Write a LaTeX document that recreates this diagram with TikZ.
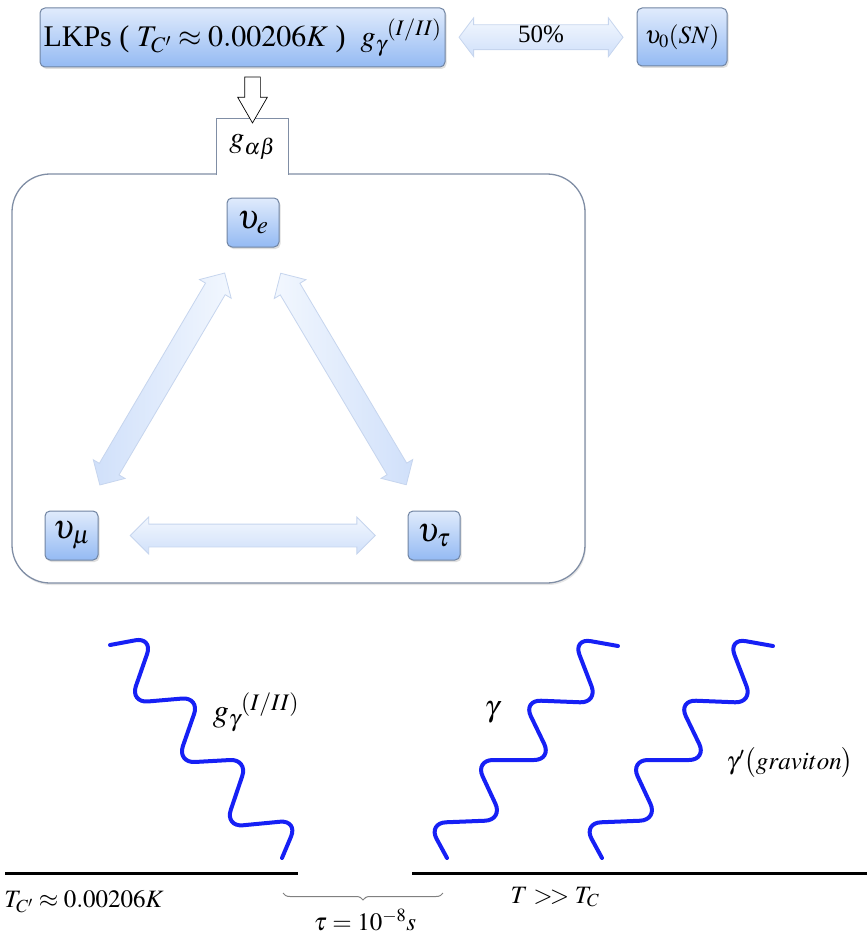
\documentclass[tikz,border=0pt]{standalone}
\usepackage{mathptmx}
\usepackage{fontspec}
\setmainfont{Liberation Serif}
\usetikzlibrary{shapes.arrows,shadows,decorations.pathreplacing,calc}

\definecolor{boxtop}{RGB}{224,235,252}
\definecolor{boxbot}{RGB}{148,186,243}
\definecolor{boxline}{RGB}{112,132,162}
\definecolor{arrtop}{RGB}{242,247,254}
\definecolor{arrbot}{RGB}{208,224,250}
\definecolor{arrline}{RGB}{198,213,238}
\definecolor{frameline}{RGB}{128,142,165}
\definecolor{wave}{RGB}{22,32,245}

\tikzset{
  bluebox/.style={draw=boxline, line width=1pt, rounded corners=5pt,
    top color=boxtop, bottom color=boxbot, inner sep=0pt,
    drop shadow={opacity=0.25, shadow xshift=1.5pt, shadow yshift=-2pt}},
  fatarrow/.style={double arrow, draw=arrline, line width=0.8pt, inner xsep=0pt, inner ysep=11pt,
    double arrow head extend=7pt, double arrow tip angle=90},
  photon/.style={draw=wave, line width=4pt, rounded corners=18pt, line cap=round},
  big/.style={font=\fontsize{34}{40}\selectfont},
  mid/.style={font=\fontsize{30}{36}\selectfont},
  lbl/.style={font=\fontsize{25}{30}\selectfont, inner sep=0pt},
  groundline/.style={line width=3pt},
}

\begin{document}
\begin{tikzpicture}[x=1pt, y=-1pt]
\useasboundingbox (0,0) rectangle (867,939);

% top row
\node[bluebox, mid, minimum width=405pt, minimum height=59pt] (lkp) at (242.5,37.5)
  {LKPs ( $T_{C'} \approx 0.00206K$ )\enspace $g_{\gamma}{}^{(I/II)}$};
\node[bluebox, lbl, minimum width=90pt, minimum height=58pt] (sn) at (682,37)
  {$\upsilon_0(SN)$};
\node[fatarrow, top color=arrtop, bottom color=arrbot, inner ysep=0pt,
  double arrow head extend=7pt, double arrow tip angle=106, minimum height=164pt,
  font=\fontsize{25}{30}\selectfont]
  (pct) at ($(lkp.east)!0.5!(sn.west)$) {\rule[-7pt]{0pt}{24pt}50\%};

% frame with tab
\node[draw=frameline, fill=white, line width=1.3pt, rounded corners=38pt,
  minimum width=573pt, minimum height=409pt,
  drop shadow={opacity=0.2, shadow xshift=1pt, shadow yshift=-2pt}] (frame) at (298.5,378.5) {};
\node[fill=white, mid, minimum width=71pt, minimum height=56pt, inner sep=0pt] (gab) at (252.5,147)
  {$g_{\alpha\beta}$};
\draw[frameline, line width=1.3pt] (gab.south west) -- (gab.north west) -- (gab.north east) -- (gab.south east);

% hollow arrow
\node[single arrow, draw=black, fill=white, line width=0.7pt, inner sep=7.5pt,
  minimum height=46pt, single arrow head extend=7pt,
  single arrow tip angle=60, shape border rotate=270]
  (down) at ($(lkp.south -| gab.north)!0.5!(gab.north)$) {};

% neutrino flavours
\node[bluebox, big, minimum width=52pt, minimum height=49pt] (ve) at (253,222.5) {$\upsilon_e$};
\node[bluebox, big, minimum width=53pt, minimum height=49pt] (vmu) at (71.5,535.5) {$\upsilon_\mu$};
\node[bluebox, big, minimum width=52pt, minimum height=49pt] (vtau) at (434,535.5) {$\upsilon_\tau$};

\node[fatarrow, right color=arrtop, left color=arrbot, minimum height=246pt, rotate=59.5]
  (a1) at ($(vmu)!0.5!(ve)$) {};
\node[fatarrow, left color=arrtop, right color=arrbot, minimum height=246pt, rotate=-59.3]
  (a2) at ($(ve)!0.5!(vtau)$) {};
\node[fatarrow, top color=arrtop, bottom color=arrbot, minimum height=245pt]
  (a3) at ($(vmu)!0.5!(vtau)$) {};

% ground levels
\coordinate (l1) at (5,873);
\coordinate (l2) at (298,873);
\coordinate (r1) at (412,873);
\coordinate (r2) at (867,873);
\draw[groundline] (l1) -- (l2);
\draw[groundline] (r1) -- (r2);

% photons
\draw[photon] (110,645) -- (153,637) -- (130,703) -- (200,697) -- (177,763)
  -- (248,759) -- (225,827) -- (298,820) -- (282,858);
\draw[photon] (447,858) -- (428,823) -- (503,820) -- (475,760) -- (552,760)
  -- (523,700) -- (598,703) -- (573,638) -- (618,646);
\draw[photon] (602,858) -- (583,823) -- (658,820) -- (630,760) -- (707,760)
  -- (678,700) -- (753,703) -- (728,638) -- (773,646);

% labels
\node[lbl, font=\fontsize{32}{38}\selectfont] (lg) at (256,712) {$g_{\gamma}{}^{(I/II)}$};
\node[lbl, font=\fontsize{30}{36}\selectfont] (lgam) at (492,712) {$\gamma$};
\node[lbl] (lgrav) at (790,763) {$\gamma'\bigl(graviton\bigr)$};
\node[lbl] (ltc) at (84,902) {$T_{C'} \approx 0.00206K$};
\node[lbl] (lt) at (555,897) {$T >\!> T_C$};

% delay brace
\coordinate (b1) at (283,893);
\coordinate (b2) at (443,893);
\draw[decorate, decoration={brace, mirror, amplitude=7pt}, draw=gray, line width=1pt] (b1) -- (b2);
\node[lbl] (ltau) at (365,920) {$\tau = 10^{-8}s$};
\end{tikzpicture}
\end{document}
